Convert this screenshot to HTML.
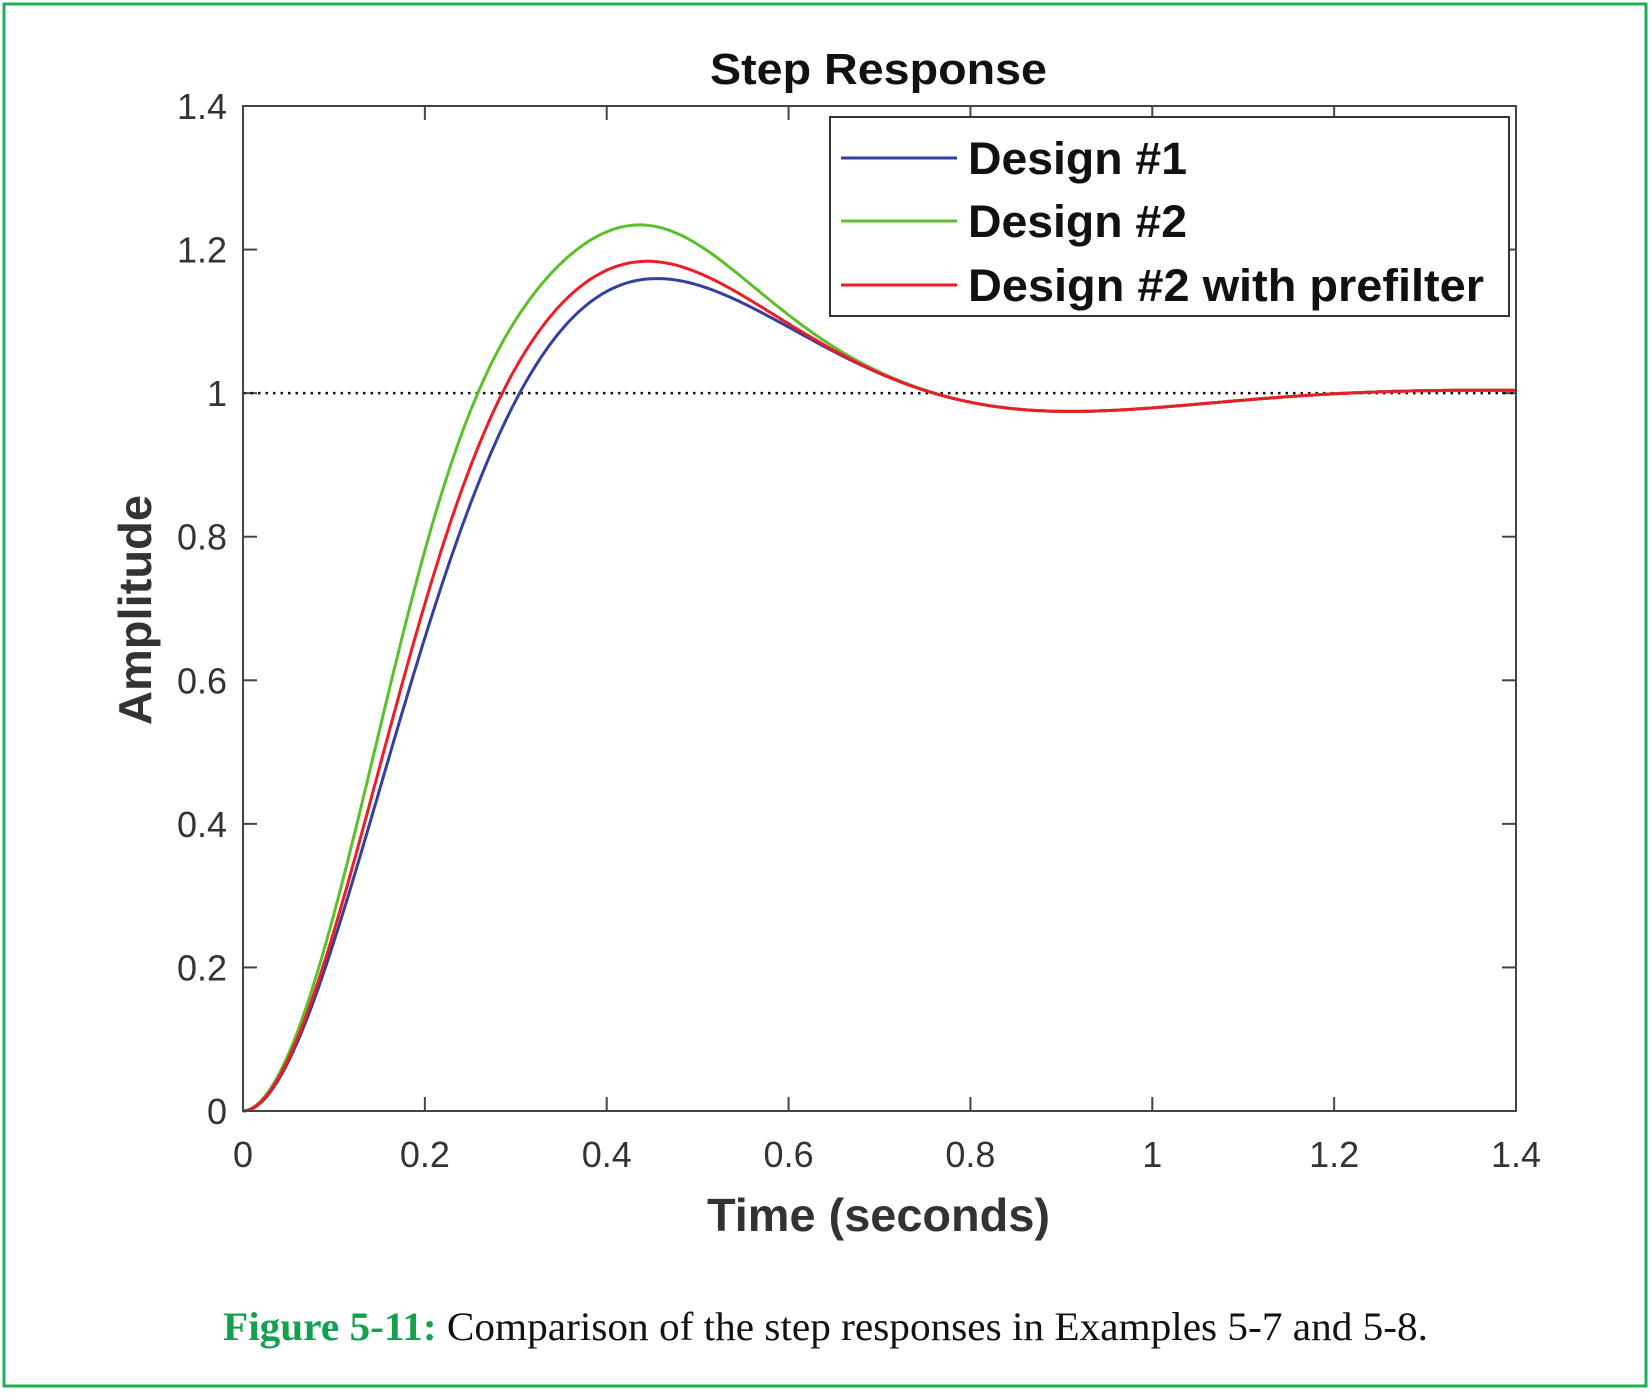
<!DOCTYPE html>
<html><head><meta charset="utf-8"><style>
html,body{margin:0;padding:0;background:#fff;}
svg{display:block;}
</style></head><body>
<svg id="s" width="1652" height="1393" xmlns="http://www.w3.org/2000/svg">
<rect x="4" y="4" width="1642" height="1382" fill="#fff" stroke="#1fae55" stroke-width="3"/>
<g id="plot"></g>
<text x="710" y="84" textLength="337" lengthAdjust="spacingAndGlyphs" font-family="Liberation Sans, sans-serif" font-weight="bold" font-size="44" fill="#111">Step Response</text>
<text x="707" y="1231" textLength="343" lengthAdjust="spacingAndGlyphs" font-family="Liberation Sans, sans-serif" font-weight="bold" font-size="46" fill="#333">Time (seconds)</text>
<text transform="translate(151,725) rotate(-90)" textLength="230" lengthAdjust="spacingAndGlyphs" font-family="Liberation Sans, sans-serif" font-weight="bold" font-size="46" fill="#333">Amplitude</text>
<text x="223" y="1340" textLength="1205" lengthAdjust="spacingAndGlyphs" font-family="Liberation Serif, serif" font-size="40" fill="#111"><tspan fill="#15a050" font-weight="bold">Figure 5-11:</tspan> Comparison of the step responses in Examples 5-7 and 5-8.</text>
</svg>
<script>
var NS="http://www.w3.org/2000/svg",g=document.getElementById("plot");
function el(n,a){var e=document.createElementNS(NS,n);for(var k in a)e.setAttribute(k,a[k]);g.appendChild(e);return e;}
var L=243,R=1516,T=106,B=1111;
function X(t){return L+t/1.4*(R-L);}function Y(v){return B-v/1.4*(B-T);}
var f="Liberation Sans, sans-serif";
for(var i=0;i<=7;i++){var v=i*0.2,x=X(v),y=Y(v);
el("line",{x1:x,y1:B,x2:x,y2:B-14,stroke:"#444","stroke-width":2});
el("line",{x1:x,y1:T,x2:x,y2:T+14,stroke:"#444","stroke-width":2});
el("line",{x1:L,y1:y,x2:L+14,y2:y,stroke:"#444","stroke-width":2});
el("line",{x1:R,y1:y,x2:R-14,y2:y,stroke:"#444","stroke-width":2});
var lab=(i==0?"0":(i==5?"1":v.toFixed(1)));
var t1=el("text",{x:x,y:B+56,"font-family":f,"font-size":36,fill:"#333","text-anchor":"middle"});t1.textContent=lab;
var t2=el("text",{x:L-16,y:y+13,"font-family":f,"font-size":36,fill:"#333","text-anchor":"end"});t2.textContent=lab;}
el("line",{x1:L,y1:Y(1),x2:R,y2:Y(1),stroke:"#111","stroke-width":2.5,"stroke-dasharray":"2.5,5"});
var s=4.03,w=6.9;
function y1(t){return 1-Math.exp(-s*t)*(Math.cos(w*t)+s/w*Math.sin(w*t));}
function path(fn,c){var d="";for(var t=0;t<=1.4001;t+=0.002){d+=(t==0?"M":"L")+X(t).toFixed(1)+","+Y(fn(t)).toFixed(1);}
el("path",{d:d,fill:"none",stroke:c,"stroke-width":3});}
function gs(t,c,wd){return Math.exp(-Math.pow((t-c)/wd,2));}
path(y1,"#3340a0");
path(function(t){return y1(t+0.04*gs(t,0.28,0.15))+0.075*gs(t,0.43,0.14);},"#5cc02a");
path(function(t){return y1(t+0.015*gs(t,0.28,0.15))+0.025*gs(t,0.42,0.14);},"#ee1c24");
el("rect",{x:L,y:T,width:R-L,height:B-T,fill:"none",stroke:"#444","stroke-width":2});
el("rect",{x:830,y:117,width:679,height:199,fill:"#fff",stroke:"#333","stroke-width":2});
var items=[["Design #1","#3340a0",158,219],["Design #2","#5cc02a",221,219],["Design #2 with prefilter","#ee1c24",285,516]];
items.forEach(function(it){el("line",{x1:841,y1:it[2],x2:957,y2:it[2],stroke:it[1],"stroke-width":3});
var t=el("text",{x:968,y:it[2]+16,textLength:it[3],lengthAdjust:"spacingAndGlyphs","font-family":f,"font-weight":"bold","font-size":45,fill:"#111"});t.textContent=it[0];});
</script>
</body></html>
